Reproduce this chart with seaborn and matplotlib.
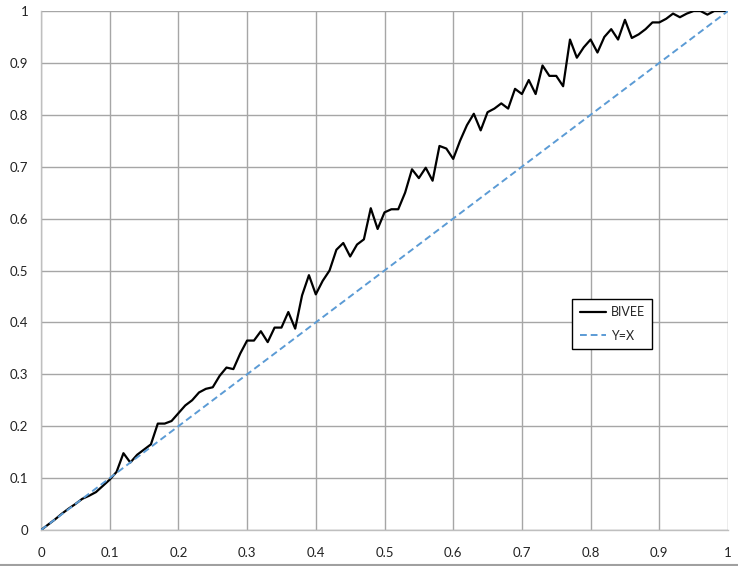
import numpy as np
import pandas as pd
import matplotlib
matplotlib.use("Agg")
import matplotlib.pyplot as plt
from matplotlib.lines import Line2D
import seaborn as sns

# Cumulative share curve for BIVEE, sampled every 0.01 on x
x_vals = [round(i * 0.01, 2) for i in range(101)]
bivee = [
    0.000, 0.010, 0.020, 0.031, 0.041, 0.050, 0.060, 0.066, 0.073, 0.085,
    0.097, 0.112, 0.148, 0.130, 0.145, 0.155, 0.165, 0.205, 0.205, 0.210,
    0.225, 0.240, 0.250, 0.265, 0.272, 0.275, 0.297, 0.313, 0.310, 0.340,
    0.365, 0.365, 0.383, 0.362, 0.390, 0.390, 0.420, 0.388, 0.452, 0.491,
    0.454, 0.480, 0.500, 0.540, 0.553, 0.527, 0.550, 0.560, 0.620, 0.580,
    0.612, 0.618, 0.618, 0.650, 0.695, 0.678, 0.698, 0.673, 0.740, 0.735,
    0.715, 0.750, 0.780, 0.802, 0.770, 0.805, 0.812, 0.822, 0.812, 0.850,
    0.840, 0.867, 0.840, 0.895, 0.875, 0.875, 0.855, 0.945, 0.910, 0.930,
    0.945, 0.920, 0.950, 0.965, 0.945, 0.983, 0.948, 0.955, 0.965, 0.978,
    0.978, 0.985, 0.995, 0.988, 0.995, 1.000, 1.000, 0.993, 1.000, 1.000,
    1.000,
]
diag_x = [0.0, 1.0]
diag_y = [0.0, 1.0]

tick_vals = [round(i * 0.1, 1) for i in range(11)]
tick_labels = ["0", "0.1", "0.2", "0.3", "0.4", "0.5", "0.6", "0.7", "0.8", "0.9", "1"]

sns.set_theme(style="white")
plt.rcParams["font.family"] = ["Lato", "DejaVu Sans"]

fig = plt.figure(figsize=(7.38, 5.66), dpi=100)
ax = fig.add_axes([41 / 738, 36 / 566, 687 / 738, 519 / 566])

df_curve = pd.DataFrame({"x": x_vals, "y": bivee})
df_diag = pd.DataFrame({"x": diag_x, "y": diag_y})

sns.lineplot(data=df_curve, x="x", y="y", ax=ax, color="black", linewidth=1.6,
             label="BIVEE", zorder=3)
sns.lineplot(data=df_diag, x="x", y="y", ax=ax, color="#5B9BD5", linewidth=1.4,
             linestyle=(0, (3.5, 2)), label="Y=X", zorder=4)

ax.set_xlim(0, 1)
ax.set_ylim(0, 1)
ax.set_xticks(tick_vals)
ax.set_xticklabels(tick_labels)
ax.set_yticks(tick_vals)
ax.set_yticklabels(tick_labels)
ax.set_xlabel("")
ax.set_ylabel("")

ax.grid(True, color="#a6a6a6", linewidth=1.0)
ax.set_axisbelow(True)
for side in ["top", "right", "left", "bottom"]:
    ax.spines[side].set_color("#bfbfbf")
    ax.spines[side].set_linewidth(1.0)
ax.spines["top"].set_visible(False)
ax.spines["right"].set_visible(False)

ax.tick_params(axis="both", which="major", direction="out", length=5, width=1,
               color="#bfbfbf", labelsize=9.5, labelcolor="#222222", pad=4)
ax.tick_params(axis="x", pad=7)

leg = ax.legend(loc="upper left", bbox_to_anchor=(531 / 687, (530 - 299) / 519),
                frameon=True, fancybox=False, fontsize=9, handlelength=2.1,
                borderpad=0.6, labelspacing=0.9, handletextpad=0.4,
                borderaxespad=0)
leg.get_frame().set_edgecolor("black")
leg.get_frame().set_linewidth(1.0)
leg.get_frame().set_alpha(1)

# bottom border of the figure
fig.add_artist(Line2D([0, 1], [1.5 / 566, 1.5 / 566], color="#a0a0a0",
                      linewidth=1.5, transform=fig.transFigure))

fig.savefig("out.png", dpi=100)
